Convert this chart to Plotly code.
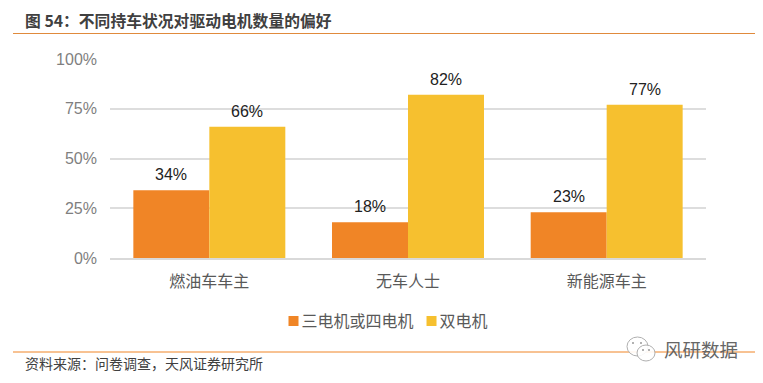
import plotly.graph_objects as go

categories = ["燃油车车主", "无车人士", "新能源车主"]
series_a_name = "三电机或四电机"
series_b_name = "双电机"
series_a = [34, 18, 23]
series_b = [66, 82, 77]
tick_vals = [0, 25, 50, 75, 100]
tick_text = ["0%", "25%", "50%", "75%", "100%"]
title_text = "图 54：不同持车状况对驱动电机数量的偏好"
source_text = "资料来源：问卷调查，天风证券研究所"
watermark_text = "风研数据"

CJK = "Noto Sans CJK SC, Liberation Sans, sans-serif"
LAT = "Liberation Sans, Arial, sans-serif"
W, H = 763, 383
L, R, T, B = 110, 706, 59, 258
COL_A, COL_B = "#F08526", "#F6C02F"

def px(x):
    return (x - L) / (R - L)

def py(y):
    return (B - y) / (B - T)

fig = go.Figure()
annotations = []
for name, vals, col, shift in [(series_a_name, series_a, COL_A, -38), (series_b_name, series_b, COL_B, 38)]:
    fig.add_bar(x=categories, y=vals, name=name, marker=dict(color=col, line=dict(width=0)), showlegend=False)
    fig.add_scatter(x=[None], y=[None], mode="markers", name=name,
                    marker=dict(symbol="square", size=10, color=col))
    for c, v in zip(categories, vals):
        annotations.append(dict(x=c, y=v, text=f"{v}%", showarrow=False, xshift=shift, yshift=5,
                                yanchor="bottom", font=dict(family=LAT, size=16, color="#222222")))

annotations += [
    dict(text=f"<b>{title_text}</b>", xref="paper", yref="paper", showarrow=False, xanchor="left", yanchor="middle",
         x=px(23), y=py(20.5), font=dict(family=CJK, size=15.8, color="#404040")),
    dict(text=source_text, xref="paper", yref="paper", showarrow=False, xanchor="left", yanchor="middle",
         x=px(22.5), y=py(362.5), font=dict(family=CJK, size=14, color="#404040")),
    dict(text=watermark_text, xref="paper", yref="paper", showarrow=False, xanchor="left", yanchor="middle",
         x=px(662), y=py(348.5), font=dict(family=CJK, size=18.5, color="#666666")),
]

def circle(x0, y0, x1, y1):
    return dict(type="circle", xref="paper", yref="paper", x0=px(x0), x1=px(x1), y0=py(y0), y1=py(y1),
                line=dict(color="#B0B0B0", width=1), fillcolor="rgba(255,255,255,0.9)")

def dot(x, y):
    return dict(type="circle", xref="paper", yref="paper", x0=px(x - 1), x1=px(x + 1), y0=py(y - 1), y1=py(y + 1),
                line=dict(width=0), fillcolor="#999999")

shapes = [
    dict(type="line", xref="paper", yref="paper", x0=px(13), x1=px(755), y0=py(33.5), y1=py(33.5),
         line=dict(color="#E08A3C", width=1)),
    dict(type="line", xref="paper", yref="paper", x0=px(13), x1=px(755), y0=py(352), y1=py(352),
         line=dict(color="#F08526", width=1)),
    circle(627, 337, 648, 356), circle(637, 345, 655, 361),
    dot(633, 343), dot(641, 343), dot(643, 350), dot(649, 350),
]

fig.update_layout(
    width=W, height=H, autosize=False, paper_bgcolor="white", plot_bgcolor="white",
    margin=dict(l=L, r=W - R, t=T, b=H - B),
    barmode="group", bargap=0.235, bargroupgap=0,
    showlegend=True,
    legend=dict(orientation="h", x=0.5 - 9 / (R - L), xanchor="center", y=py(304), yanchor="top",
                font=dict(family=CJK, size=16, color="#595959"),
                traceorder="normal", itemclick=False, itemdoubleclick=False),
    xaxis=dict(showline=True, linecolor="#D9D9D9", linewidth=1.5, ticks="", showgrid=False,
               ticklabelstandoff=8, tickfont=dict(family=CJK, size=16, color="#595959")),
    yaxis=dict(range=[0, 100], tickvals=tick_vals, ticktext=tick_text, showline=False,
               gridcolor="#DDDDDD", gridwidth=1.5, zeroline=False, ticks="", ticklen=0,
               ticklabelstandoff=12, tickfont=dict(family=LAT, size=16, color="#7F7F7F")),
    shapes=shapes,
    annotations=annotations,
)
# Tighten the legend: the marker-to-label gap and the entry spacing are fixed in plotly.
post = """
document.body.style.margin='0';
document.querySelectorAll('.legend .traces').forEach(function(g,i){
  var t=g.querySelector('.legendtext');
  t.setAttribute('x', parseFloat(t.getAttribute('x'))-12);
  if(i===1){
    var m=/translate\\(([-\\d.]+)[ ,]+([-\\d.]+)\\)/.exec(g.getAttribute('transform'));
    if(m){g.setAttribute('transform','translate('+(parseFloat(m[1])-19)+','+m[2]+')');}
  }
});
"""
fig.write_html("out.html", post_script=post, config={"displayModeBar": False})
